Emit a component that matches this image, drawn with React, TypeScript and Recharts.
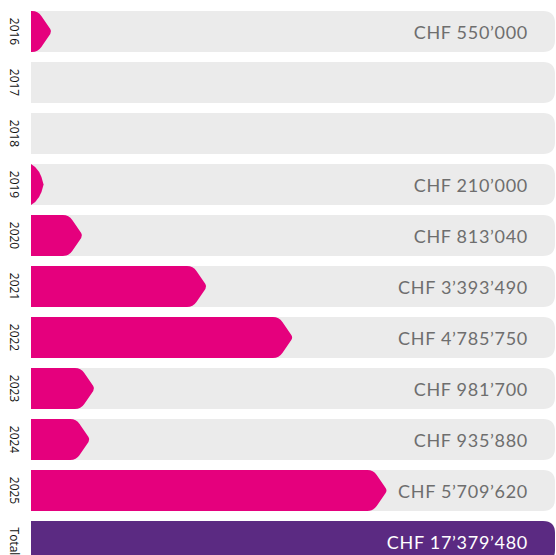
import { BarChart, Bar, XAxis, YAxis } from 'recharts'

const years = ['2016', '2017', '2018', '2019', '2020', '2021', '2022', '2023', '2024', '2025', 'Total']
const amounts = [550000, 0, 0, 210000, 813040, 3393490, 4785750, 981700, 935880, 5709620, 17379480]
// bar length as drawn, in % of the track
const barShare = [4, 0, 0, 2.4, 9.9, 33.6, 50, 12.2, 11.3, 68, 100]

const PINK = '#E5007D'
const PURPLE = '#5B2A82'
const TRACK = '#EBEBEB'

const chartData = years.map((year, i) => ({
  year,
  amount: amounts[i],
  share: barShare[i],
}))

const fmt = (v: number) => 'CHF ' + String(v).replace(/\B(?=(\d{3})+(?!\d))/g, '’')

function roundRight(x: number, y: number, w: number, h: number, r: number) {
  return `M${x},${y} H${x + w - r} Q${x + w},${y} ${x + w},${y + r} V${y + h - r} Q${x + w},${y + h} ${x + w - r},${y + h} H${x} Z`
}

function Track(props: any) {
  const { x, y, width, height } = props
  return <path d={roundRight(x, y, width, height, 12)} fill={TRACK} />
}

function chevron(x: number, y: number, w: number, h: number) {
  const d = 14
  if (w <= d + 6) {
    // short bar: just the rounded point
    return `M${x},${y} Q${x + w * 0.75},${y + h * 0.12} ${x + w},${y + h / 2} Q${x + w * 0.75},${y + h * 0.88} ${x},${y + h} Z`
  }
  const ax = x + w - d
  const tx = x + w
  const ty = y + h / 2
  const len = Math.hypot(d, h / 2)
  const ux = d / len
  const uy = (h / 2) / len
  const r = 6
  const t = 3
  return [
    `M${x},${y}`,
    `H${ax - r}`,
    `Q${ax},${y} ${ax + ux * r},${y + uy * r}`,
    `L${tx - ux * t},${ty - uy * t}`,
    `Q${tx},${ty} ${tx - ux * t},${ty + uy * t}`,
    `L${ax + ux * r},${y + h - uy * r}`,
    `Q${ax},${y + h} ${ax - r},${y + h}`,
    `H${x} Z`,
  ].join(' ')
}

function BarShape(props: any) {
  const { x, y, width, height, payload, background } = props
  const isTotal = payload.year === 'Total'
  const bg = background || { x, y, width, height }
  const labelX = bg.x + bg.width - 27
  return (
    <g>
      {width > 0 && (
        <path
          d={isTotal ? roundRight(x, y, width, height, 12) : chevron(x, y, width, height)}
          fill={isTotal ? PURPLE : PINK}
        />
      )}
      {payload.amount > 0 && (
        <text
          x={labelX}
          y={y + height / 2}
          textAnchor="end"
          dominantBaseline="central"
          fontFamily="Lato, sans-serif"
          fontSize={18}
          letterSpacing={0.7}
          fill={isTotal ? '#ffffff' : '#6E6E6E'}
        >
          {fmt(payload.amount)}
        </text>
      )}
    </g>
  )
}

function YearTick(props: any) {
  const { y, payload } = props
  return (
    <text
      x={14}
      y={y}
      transform={`rotate(90 14 ${y})`}
      textAnchor="middle"
      dominantBaseline="central"
      fontFamily="'Open Sans', sans-serif"
      fontSize={12}
      fill="#111"
    >
      {payload.value}
    </text>
  )
}

export default function App() {
  return (
    <div style={{ position: 'fixed', top: 0, left: 0, width: 556, height: 555, overflow: 'hidden', background: '#fff' }}>
      <BarChart
        width={556}
        height={567}
        data={chartData}
        layout="vertical"
        margin={{ top: 6, right: 1, bottom: 0, left: 0 }}
      >
        <XAxis type="number" domain={[0, 100]} hide />
        <YAxis
          type="category"
          dataKey="year"
          width={31}
          axisLine={false}
          tickLine={false}
          tick={<YearTick />}
          interval={0}
        />
        <Bar
          dataKey="share"
          barSize={41}
          background={<Track />}
          shape={<BarShape />}
          isAnimationActive={false}
        />
      </BarChart>
    </div>
  )
}
